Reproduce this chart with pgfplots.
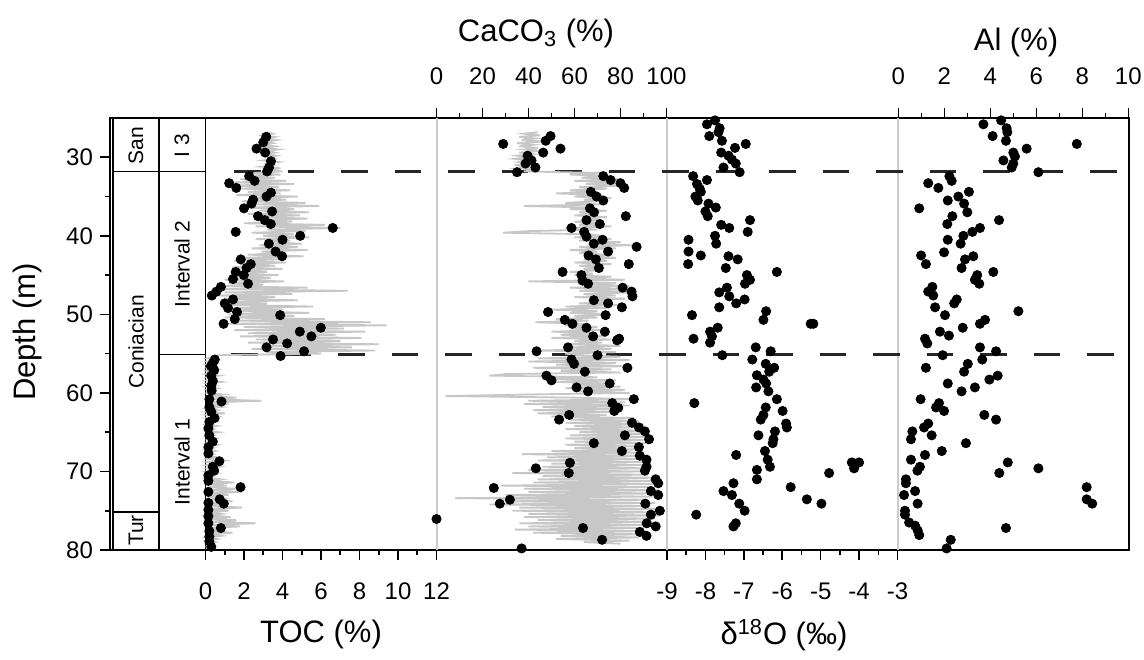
\documentclass[border=0pt]{standalone}
\usepackage{pgfplots}
\pgfplotsset{compat=1.18}
\usepackage{fontspec}
\setmainfont{Liberation Sans}
\begin{document}
\begin{tikzpicture}
\path[use as bounding box] (0pt,0pt) rectangle (572pt,329.5pt);
\pgfplotsset{
  every axis/.append style={
    scale only axis, height=216pt, ymin=25, ymax=80, y dir=reverse,
    tick align=outside, major tick length=5pt, minor tick length=2.5pt,
    every tick/.style={black, line width=0.8pt},
    tick label style={font=\fontsize{12}{14}\selectfont},
    /pgf/number format/assume math mode=true,
    anchor=south west,
  },
  panel/.style={clip=false, axis y line=none, axis line style={draw=none}, ytick=\empty},
  bot/.style={axis x line*=bottom, xticklabel style={yshift=-8pt}},
  topx/.style={axis x line*=top, xticklabel style={yshift=8.25pt}},
  dots/.style={only marks, mark=*, mark size=2.3pt, black},
  greyline/.style={no marks, draw=black!22, line width=0.9pt},
}
% ---------- frame, depth axis, stratigraphy ----------
\begin{axis}[at={(55pt,54.5pt)}, width=509.5pt, xmin=110, xmax=1129,
  xtick=\empty, ytick={30,40,...,80}, minor ytick={35,45,...,75},
  ytick pos=left, axis line style={line width=1pt}, clip=false]
\draw[black!20, line width=1pt] (axis cs:437,25) -- (axis cs:437,80);
\draw[black!20, line width=1pt] (axis cs:667,25) -- (axis cs:667,80);
\draw[black!20, line width=1pt] (axis cs:898,25) -- (axis cs:898,80);
\draw[black, line width=0.9pt] (axis cs:113,25) -- (axis cs:113,80);
\draw[black, line width=0.9pt] (axis cs:159,25) -- (axis cs:159,80);
\draw[black, line width=0.9pt] (axis cs:205.5,25) -- (axis cs:205.5,80);
\draw[black, line width=0.9pt] (axis cs:113,31.8) -- (axis cs:205.5,31.8);
\draw[black, line width=0.9pt] (axis cs:113,75.2) -- (axis cs:159,75.2);
\draw[black, line width=0.9pt] (axis cs:159,55.1) -- (axis cs:205.5,55.1);
\draw[black!85, line width=1.2pt, dash pattern=on 13.25pt off 13.5pt] (axis cs:234,31.8) -- (axis cs:1129,31.8);
\draw[black!85, line width=1.2pt, dash pattern=on 13.25pt off 13.5pt] (axis cs:231,55.1) -- (axis cs:1129,55.1);
\node[rotate=90, font=\fontsize{10.5}{12}\selectfont] at (axis cs:136,28.5) {San};
\node[rotate=90, font=\fontsize{10.5}{12}\selectfont] at (axis cs:182,28.5) {I 3};
\node[rotate=90, font=\fontsize{10.5}{12}\selectfont] at (axis cs:136,53.5) {Coniacian};
\node[rotate=90, font=\fontsize{10.5}{12}\selectfont] at (axis cs:182,43.6) {Interval 2};
\node[rotate=90, font=\fontsize{10.5}{12}\selectfont] at (axis cs:182,68.8) {Interval 1};
\node[rotate=90, font=\fontsize{10.5}{12}\selectfont] at (axis cs:136,77.5) {Tur};
\end{axis}
% ---------- TOC ----------
\begin{axis}[panel, bot, at={(102.75pt,54.5pt)}, width=115.5pt, xmin=0, xmax=12,
  xtick={0,2,...,12}, minor x tick num=1]
\addplot[greyline] coordinates {
(3.2,26.8)(3.5,27.0)(3.0,27.2)(3.6,27.4)(3.1,27.6)(3.7,27.8)(3.2,28.0)(3.5,28.2)(2.9,28.4)(3.6,28.6)(3.0,28.8)(3.8,29.0)(3.2,29.2)(3.6,29.4)(3.1,29.6)(3.7,29.8)(3.3,30.0)(3.6,30.2)(3.0,30.4)(3.8,30.6)(3.2,30.8)(3.5,31.0)(2.9,31.2)(3.9,31.4)(3.1,31.6)(4.0,31.8)
(2.5,32.0)(3.9,32.2)(2.0,32.4)(3.6,32.6)(1.8,32.8)(4.2,33.0)(1.5,33.2)(4.6,33.4)(1.2,33.6)(3.8,33.8)(1.9,34.0)(4.4,34.2)(2.2,34.4)(3.9,34.6)(1.6,34.8)(4.8,35.0)(2.4,35.2)(4.2,35.4)(1.9,35.6)(5.2,35.8)(2.6,36.0)(5.9,36.2)(2.0,36.4)(4.6,36.6)(2.8,36.8)(5.4,37.0)(2.2,37.2)(4.9,37.4)(2.5,37.6)(5.3,37.8)(3.0,38.0)(4.5,38.2)(2.0,38.4)(6.2,38.6)(2.6,38.8)(7.0,39.0)(3.2,39.2)(5.2,39.4)(2.4,39.6)(4.6,39.8)(3.0,40.0)(5.4,40.2)(2.6,40.4)(4.4,40.6)(3.1,40.8)(5.0,41.0)(2.8,41.2)(4.8,41.4)(2.4,41.6)(5.3,41.8)(2.9,42.0)(4.1,42.2)(2.2,42.4)(5.1,42.6)(1.8,42.8)(3.8,43.0)(1.5,43.2)(4.2,43.4)(1.8,43.6)(3.6,43.8)(1.4,44.0)(4.0,44.2)(1.6,44.4)(3.2,44.6)(1.3,44.8)(3.8,45.0)(1.5,45.2)(3.4,45.4)(1.0,45.6)(4.1,45.8)(1.2,46.0)(3.0,46.2)(0.6,46.4)(5.3,46.6)(0.8,46.8)(7.4,47.0)(1.0,47.2)(4.5,47.4)(0.6,47.6)(3.6,47.8)(1.0,48.0)(4.8,48.2)(0.8,48.4)(3.2,48.6)(1.2,48.8)(5.6,49.0)(1.0,49.2)(4.0,49.4)(1.4,49.6)(5.4,49.8)(1.2,50.0)(4.6,50.2)(1.0,50.4)(6.2,50.6)(1.4,50.8)(8.6,51.0)(1.2,51.2)(9.4,51.4)(2.0,51.6)(7.2,51.8)(1.5,52.0)(8.3,52.2)(2.2,52.4)(6.8,52.6)(1.8,52.8)(8.1,53.0)(2.6,53.2)(7.0,53.4)(2.2,53.6)(9.0,53.8)(3.0,54.0)(7.6,54.2)(2.4,54.4)(8.8,54.6)(3.2,54.8)(6.0,55.0)(0.6,55.2)
(0.5,55.4)(0.1,55.6)(0.6,55.8)(0.1,56.0)(0.5,56.2)(0.05,56.4)(0.4,56.6)(0.1,56.8)(0.6,57.0)(0.1,57.2)(0.5,57.4)(0.05,57.6)(0.7,57.8)(0.1,58.0)(0.5,58.2)(0.1,58.4)(0.8,58.6)(0.1,58.8)(0.5,59.0)(0.05,59.2)(0.6,59.4)(0.1,59.6)(0.4,59.8)(0.1,60.0)(0.9,60.2)(0.1,60.4)(1.6,60.6)(0.2,60.8)(2.9,61.0)(0.3,61.2)(1.2,61.4)(0.1,61.6)(0.8,61.8)(0.1,62.0)(0.6,62.2)(0.1,62.4)(1.0,62.6)(0.1,62.8)(0.6,63.0)(0.05,63.2)(0.5,63.4)(0.1,63.6)(0.4,63.8)(0.05,64.0)(0.6,64.2)(0.1,64.4)(0.4,64.6)(0.05,64.8)(0.7,65.0)(0.1,65.2)(0.4,65.4)(0.05,65.6)(0.5,65.8)(0.1,66.0)(0.3,66.2)(0.05,66.4)(0.6,66.6)(0.1,66.8)(0.4,67.0)(0.05,67.2)(0.5,67.4)(0.1,67.6)(0.4,67.8)(0.05,68.0)(0.6,68.2)(0.1,68.4)(0.9,68.6)(0.1,68.8)(0.5,69.0)(0.05,69.2)(0.7,69.4)(0.1,69.6)(0.5,69.8)(0.05,70.0)(0.6,70.2)(0.1,70.4)(0.4,70.6)(0.05,70.8)(0.8,71.0)(0.1,71.2)(1.5,71.4)(0.1,71.6)(1.1,71.8)(0.2,72.0)(1.6,72.2)(0.1,72.4)(1.9,72.6)(0.2,72.8)(1.2,73.0)(0.1,73.2)(0.9,73.4)(0.2,73.6)(1.4,73.8)(0.1,74.0)(1.0,74.2)(0.2,74.4)(1.9,74.6)(0.1,74.8)(1.2,75.0)(0.1,75.2)(0.8,75.4)(0.2,75.6)(1.3,75.8)(0.1,76.0)(1.6,76.2)(0.2,76.4)(2.6,76.6)(0.3,76.8)(1.8,77.0)(0.1,77.2)(1.0,77.4)(0.2,77.6)(1.4,77.8)(0.1,78.0)(0.8,78.2)(0.1,78.4)(0.6,78.6)(0.1,78.8)(0.5,79.0)(0.1,79.2)(0.4,79.4)(0.1,79.6)(0.3,79.8)
};
\addplot[dots] table {
3.15 27.4
3.0 28.1
2.65 28.9
3.1 29.4
3.4 30.5
3.3 31.3
3.2 31.8
2.27 32.4
2.55 33.0
1.23 33.3
1.6 33.9
3.4 34.5
3.17 35.0
2.47 35.4
2.39 35.9
2.0 36.5
3.46 36.9
2.73 37.5
3.08 38.0
3.39 38.5
6.61 39.0
1.57 39.5
4.92 40.0
4.0 40.5
3.29 41.0
3.64 42.0
3.98 42.6
1.83 43.0
2.35 43.6
2.13 44.1
1.57 44.6
1.99 45.0
1.43 45.5
2.21 46.1
0.8 46.5
0.57 47.1
0.33 47.6
1.43 48.1
1.0 48.6
1.17 49.2
1.64 49.7
3.88 50.1
1.52 50.6
0.94 51.2
5.99 51.7
4.9 52.2
5.5 52.8
3.51 53.2
4.24 53.7
3.17 54.2
5.12 54.7
3.9 55.3
0.48 55.75
0.38 56.2
0.28 56.6
0.45 57.1
0.3 57.8
0.38 58.5
0.3 59.1
0.32 59.7
0.2 60.8
0.83 61.1
0.2 61.8
0.3 62.4
0.47 63.2
0.2 63.7
0.15 64.5
0.2 65.4
0.38 66.2
0.15 66.9
0.15 67.7
0.72 68.7
0.38 69.4
0.45 69.9
0.15 70.5
0.15 71.2
1.82 72.0
0.15 72.6
0.74 73.55
0.95 74.1
0.15 74.0
0.15 74.9
0.15 75.7
0.15 76.6
0.8 77.2
0.2 77.6
0.2 78.3
0.2 78.9
0.3 79.6
};
\end{axis}
% ---------- CaCO3 ----------
\begin{axis}[panel, topx, at={(218.25pt,54.5pt)}, width=115pt, xmin=0, xmax=100,
  xtick={0,20,...,100}, minor x tick num=1]
\addplot[greyline] coordinates {
(44,26.8)(38,27.0)(45,27.2)(36,27.4)(43,27.6)(37,27.8)(46,28.0)(35,28.2)(42,28.4)(36,28.6)(44,28.8)(38,29.0)(45,29.2)(36,29.4)(42,29.6)(35,29.8)(40,30.0)(34,30.2)(41,30.4)(36,30.6)(43,30.8)(34,31.0)(40,31.2)(35,31.4)(44,31.6)(38,31.8)
(72,32.0)(58,32.2)(76,32.4)(63,32.6)(80,32.8)(60,33.0)(78,33.2)(65,33.4)(82,33.6)(62,33.8)(74,34.0)(58,34.2)(70,34.4)(52,34.6)(72,34.8)(60,35.0)(76,35.2)(64,35.4)(70,35.6)(56,35.8)(72,36.0)(38,36.2)(68,36.4)(58,36.6)(74,36.8)(62,37.0)(70,37.2)(60,37.4)(74,37.6)(64,37.8)(72,38.0)(60,38.2)(70,38.4)(62,38.6)(76,38.8)(56,39.0)(70,39.2)(40,39.4)(29,39.6)(66,39.8)(72,40.0)(60,40.2)(76,40.4)(62,40.6)(80,40.8)(66,41.0)(85,41.2)(62,41.4)(78,41.6)(58,41.8)(70,42.0)(62,42.2)(74,42.4)(66,42.6)(78,42.8)(64,43.0)(74,43.2)(60,43.4)(76,43.6)(62,43.8)(72,44.0)(64,44.2)(70,44.4)(58,44.6)(68,44.8)(60,45.0)(76,45.2)(62,45.4)(82,45.6)(40,45.8)(78,46.0)(66,46.2)(84,46.4)(58,46.6)(80,46.8)(62,47.0)(86,47.2)(64,47.4)(78,47.6)(60,47.8)(82,48.0)(66,48.2)(76,48.4)(62,48.6)(80,48.8)(56,49.0)(74,49.2)(50,49.4)(70,49.6)(58,49.8)(76,50.0)(60,50.2)(70,50.4)(52,50.6)(66,50.8)(43,51.0)(64,51.2)(56,51.4)(70,51.6)(58,51.8)(72,52.0)(50,52.2)(68,52.4)(54,52.6)(74,52.8)(50,53.0)(76,53.2)(60,53.4)(72,53.6)(56,53.8)(80,54.0)(58,54.2)(76,54.4)(44,54.6)(78,54.8)(56,55.0)
(62,55.2)(80,55.4)(44,55.6)(84,55.8)(40,56.0)(78,56.2)(52,56.4)(82,56.6)(42,56.8)(76,57.0)(54,57.2)(80,57.4)(30,57.6)(23,57.8)(70,58.0)(48,58.2)(78,58.4)(52,58.6)(76,58.8)(60,59.0)(80,59.2)(56,59.4)(82,59.6)(62,59.8)(84,60.0)(40,60.2)(4,60.4)(60,60.6)(86,60.8)(40,61.0)(82,61.2)(38,61.4)(84,61.6)(46,61.8)(80,62.0)(42,62.2)(78,62.4)(44,62.6)(74,62.8)(50,63.0)(86,63.2)(58,63.4)(88,63.6)(56,63.8)(90,64.0)(60,64.2)(86,64.4)(56,64.6)(90,64.8)(62,65.0)(92,65.2)(58,65.4)(93,65.6)(56,65.8)(90,66.0)(60,66.2)(92,66.4)(56,66.6)(86,66.8)(60,67.0)(88,67.2)(50,67.4)(90,67.6)(37,67.8)(92,68.0)(48,68.2)(90,68.4)(44,68.6)(91,68.8)(50,69.0)(90,69.2)(46,69.4)(92,69.6)(40,69.8)(90,70.0)(33,70.2)(92,70.4)(46,70.6)(95,70.8)(44,71.0)(96,71.2)(42,71.4)(97,71.6)(28,71.8)(94,72.0)(38,72.2)(97,72.4)(40,72.6)(96,72.8)(30,73.0)(94,73.2)(8,73.4)(92,73.6)(30,73.8)(95,74.0)(23,74.2)(93,74.4)(36,74.6)(97,74.8)(33,75.0)(96,75.2)(40,75.4)(97,75.6)(38,75.8)(95,76.0)(44,76.2)(94,76.4)(36,76.6)(92,76.8)(40,77.0)(90,77.2)(34,77.4)(91,77.6)(42,77.8)(90,78.0)(54,78.2)(88,78.4)(52,78.6)(84,78.8)(64,79.0)(80,79.2)
};
\addplot[dots] table {
49.6 27.3
47.5 27.9
29.0 28.3
53.9 28.9
46.4 29.4
39.6 29.8
41.3 30.4
38.7 30.8
43.0 31.3
35.0 31.9
72.5 32.4
75.7 32.9
80.0 33.3
81.6 33.9
67.1 34.4
69.6 35.0
72.5 35.5
66.7 36.5
68.5 37.0
82.3 37.5
65.2 38.0
71.0 38.5
58.7 39.0
64.2 39.5
65.2 40.1
72.2 40.5
68.4 41.0
87.0 41.4
74.6 42.0
66.1 42.5
69.3 43.0
83.6 43.6
70.6 44.1
54.8 44.6
63.0 45.0
63.5 45.7
65.9 46.1
80.9 46.6
84.8 47.1
85.2 47.7
68.4 48.2
74.6 48.6
80.6 49.1
48.5 49.7
73.5 50.1
55.8 50.7
59.1 51.2
65.2 51.7
73.2 52.2
68.1 52.8
79.4 53.1
78.5 53.3
57.2 54.2
43.5 54.7
70.0 55.2
58.7 55.75
59.8 56.3
83.0 56.8
64.5 57.3
47.8 57.8
50.0 58.4
75.3 58.8
60.9 59.3
65.9 59.8
85.8 60.8
76.4 61.3
79.0 61.9
77.3 62.3
57.7 62.8
53.3 63.4
85.0 63.8
88.0 64.4
90.6 64.9
81.9 65.4
92.4 65.9
68.4 66.4
88.0 66.9
80.6 67.4
88.4 68.0
91.3 68.5
58.0 68.9
91.3 69.4
43.2 69.6
90.6 69.9
57.5 70.2
95.3 71.0
96.4 71.5
24.9 72.1
93.2 72.5
96.4 73.0
31.9 73.6
27.5 74.1
90.8 74.1
97.1 75.0
93.2 75.5
0 76.05
91.4 76.6
95.3 77.0
63.7 77.2
88.4 77.7
91.3 78.2
72.0 78.7
37.0 79.8
};
\end{axis}
% ---------- d18O ----------
\begin{axis}[panel, bot, at={(333.5pt,54.5pt)}, width=115.25pt, xmin=-9, xmax=-3,
  xtick={-9,-8,...,-3}, xticklabels={-9,-8,-7,-6,-5,-4,-3}, minor x tick num=1]
\addplot[dots] table {
-7.75 25.3
-7.96 25.8
-7.63 26.3
-7.66 26.8
-7.90 27.3
-7.57 27.9
-6.95 28.3
-7.23 28.8
-7.59 29.4
-7.40 29.8
-7.31 30.3
-7.21 30.8
-7.53 31.3
-7.11 31.9
-8.32 32.4
-7.96 32.9
-8.22 33.4
-8.15 34.0
-8.12 34.4
-8.26 35.0
-8.20 35.5
-7.92 35.9
-7.73 36.4
-8.0 36.9
-7.94 37.5
-6.84 38.0
-7.59 38.6
-7.38 39.0
-6.90 39.5
-7.75 40.0
-8.44 40.5
-7.72 41.0
-8.44 42.0
-8.12 42.5
-7.40 42.6
-7.16 43.0
-8.45 43.6
-7.47 44.1
-6.14 44.6
-6.92 45.0
-6.84 45.6
-6.97 46.1
-7.44 46.6
-7.64 47.2
-7.38 47.7
-6.98 48.1
-7.20 48.6
-7.64 49.1
-6.42 49.6
-8.35 50.1
-6.49 50.7
-5.26 51.2
-5.19 51.2
-7.68 51.7
-7.88 52.2
-7.83 52.8
-8.31 53.1
-7.88 53.6
-6.69 54.2
-6.30 54.7
-7.56 55.2
-6.78 55.75
-6.43 56.3
-6.21 56.8
-6.34 57.3
-6.66 57.75
-6.49 58.3
-6.42 58.8
-6.68 59.3
-6.36 59.8
-6.14 60.8
-8.29 61.3
-6.43 61.85
-5.99 62.3
-6.49 62.8
-6.56 63.4
-5.90 63.9
-5.88 64.4
-6.19 64.9
-6.62 65.4
-6.23 65.9
-6.25 66.4
-6.45 67.4
-7.20 67.9
-6.38 68.5
-6.32 69.4
-6.66 69.8
-6.66 71.0
-4.19 68.85
-4.0 68.85
-4.13 69.6
-4.78 70.2
-5.78 72.0
-7.27 71.5
-7.53 72.5
-7.31 73.0
-5.36 73.55
-4.98 74.1
-7.12 74.1
-6.98 75.0
-8.24 75.5
-7.21 76.6
-7.27 77.0
};
\end{axis}
% ---------- Al ----------
\begin{axis}[panel, topx, at={(449.15pt,54.5pt)}, width=115pt, xmin=0, xmax=10,
  xtick={0,2,...,10}, minor x tick num=1]
\addplot[dots] table {
4.47 25.3
3.70 25.8
4.71 26.3
4.74 26.8
4.10 27.3
4.68 27.9
7.76 28.3
5.58 28.9
5.0 29.4
5.07 29.9
4.57 30.4
5.0 30.8
4.93 31.3
6.09 31.9
2.22 32.4
2.32 33.0
1.30 33.3
1.74 33.9
3.07 34.4
2.61 35.0
2.15 35.5
2.86 35.9
0.91 36.5
3.0 37.0
2.35 37.5
4.38 38.0
2.13 38.5
3.55 39.0
3.22 39.5
2.83 40.0
2.15 40.5
2.71 41.0
1.99 42.1
0.99 42.5
3.26 42.6
2.9 43.0
1.2 43.6
2.75 44.1
4.13 44.6
3.43 45.0
3.33 45.6
3.52 46.1
1.48 46.5
1.30 47.1
1.52 47.6
2.54 48.1
2.43 48.6
1.6 49.1
5.22 49.6
2.03 50.1
3.77 50.7
3.55 51.2
2.8 51.7
1.81 52.2
2.2 52.7
1.16 53.1
1.26 53.7
3.55 54.2
4.25 54.7
1.93 55.2
3.65 55.75
3.02 56.3
1.2 56.8
2.86 57.3
4.32 57.8
3.96 58.3
2.15 58.8
3.33 59.3
2.75 59.8
0.97 60.8
1.77 61.3
1.64 61.85
1.99 62.3
3.74 62.8
4.25 63.4
1.3 63.9
1.12 64.4
0.61 64.9
1.45 65.4
0.55 65.9
2.94 66.4
1.89 67.4
1.16 67.9
0.55 68.5
4.76 68.85
0.94 69.4
0.83 69.9
6.09 69.6
4.39 70.2
0.33 71.0
0.33 71.5
8.19 72.0
0.73 72.5
0.25 73.0
8.19 73.55
8.43 74.1
0.84 74.1
0.29 75.0
0.29 75.5
0.47 76.5
0.73 76.9
0.84 77.5
0.91 78.1
4.68 77.2
2.28 78.7
2.1 79.8
};
\end{axis}
% ---------- titles ----------
\node[font=\fontsize{15.5}{18}\selectfont, rotate=90] at (13.5pt,163.5pt) {Depth (m)};
\node[font=\fontsize{15.5}{18}\selectfont] at (160.5pt,12.5pt) {TOC (\%)};
\node[font=\fontsize{15.5}{18}\selectfont] at (392pt,12pt) {δ\textsuperscript{18}O (‰)};
\node[font=\fontsize{15.5}{18}\selectfont] at (268pt,313pt) {CaCO\textsubscript{3} (\%)};
\node[font=\fontsize{15.5}{18}\selectfont] at (508pt,308.5pt) {Al (\%)};
\end{tikzpicture}
\end{document}
